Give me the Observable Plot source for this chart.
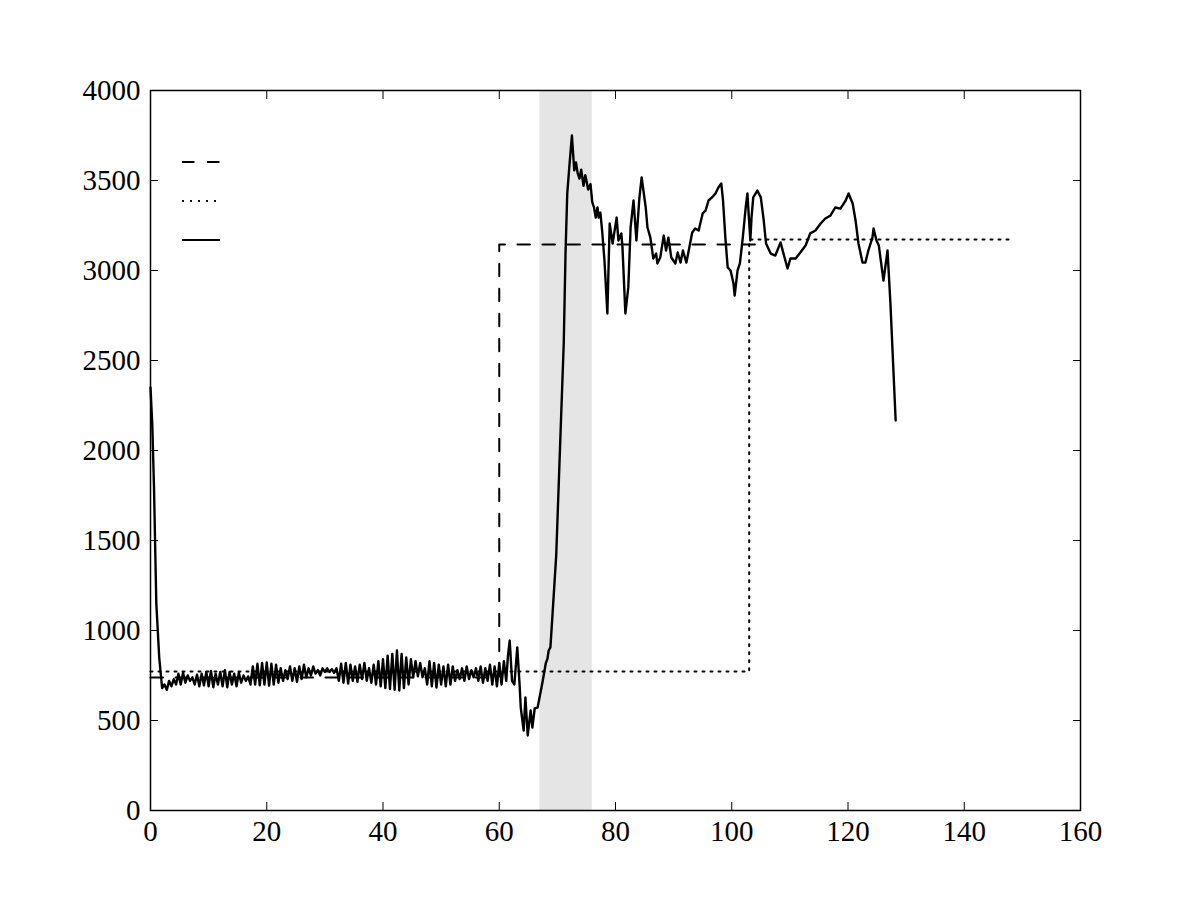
<!DOCTYPE html>
<html>
<head>
<meta charset="utf-8">
<script src="https://cdn.jsdelivr.net/npm/d3@7"></script>
<script src="https://cdn.jsdelivr.net/npm/@observablehq/plot@0.6"></script>
<style>
  body { margin: 0; background: #fff; }
  #chart { width: 1200px; height: 900px; }
</style>
</head>
<body>
<div id="chart"></div>
<script>
// ---- data ----
const xTicks = [0, 20, 40, 60, 80, 100, 120, 140, 160];
const yTicks = [0, 500, 1000, 1500, 2000, 2500, 3000, 3500, 4000];

const shadeStart = [67];
const shadeEnd = [76];

const dashedX = [0, 60, 60, 104];
const dashedY = [739, 739, 3145, 3145];

const dottedX = [0, 103, 103, 148];
const dottedY = [772, 772, 3172, 3172];

const solidPts = [
  [0,2350],[0.3,2150],[0.6,1800],[1.0,1150],[1.5,850],[2.0,680],
  [2.4,700],[2.8,670],[3.2,720],[3.6,690],[4.0,730],[4.4,700],[4.8,760],[5.2,700],[5.6,765],
  [6.0,710],[6.4,750],[6.8,720],[7.2,740],[7.6,700],[8.0,755],[8.4,690],[8.8,760],[9.2,695],
  [9.6,770],[10.0,690],[10.4,775],[10.8,685],[11.2,760],[11.6,700],[12.0,770],[12.4,690],
  [12.8,780],[13.2,685],[13.6,770],[14.0,700],[14.4,760],[14.8,690],[15.2,765],[15.6,710],
  [16.0,750],[16.4,720],[16.8,745],[17.2,700],[17.6,800],[18.0,700],[18.4,815],[18.8,695],
  [19.2,820],[19.6,700],[20.0,822],[20.4,694],[20.8,815],[21.2,700],[21.6,810],[22.0,710],
  [22.4,790],[22.8,720],[23.2,780],[23.6,730],[24.0,800],[24.4,720],[24.8,790],[25.2,715],
  [25.6,800],[26.0,730],[26.4,810],[26.8,740],[27.2,790],[27.6,750],[28.0,800],[28.4,760],
  [28.8,780],[29.2,750],[29.6,790],[30.0,770],[30.4,790],[30.8,770],[31.2,785],[31.6,765],
  [32.0,790],[32.4,720],[32.8,815],[33.2,710],[33.6,820],[34.0,705],[34.4,810],[34.8,720],
  [35.2,800],[35.6,715],[36.0,810],[36.4,730],[36.8,820],[37.2,720],[37.6,790],[38.0,710],
  [38.4,810],[38.8,700],[39.2,830],[39.6,690],[40.0,840],[40.4,680],[40.8,860],[41.2,675],
  [41.6,870],[42.0,670],[42.4,889],[42.8,667],[43.2,870],[43.6,680],[44.0,850],[44.4,700],
  [44.8,840],[45.2,740],[45.6,830],[46.0,745],[46.4,820],[46.8,740],[47.2,790],[47.6,700],
  [48.0,830],[48.4,690],[48.8,820],[49.2,683],[49.6,810],[50.0,700],[50.4,800],[50.8,690],
  [51.2,810],[51.6,700],[52.0,800],[52.4,720],[52.8,780],[53.2,730],[53.6,790],[54.0,720],
  [54.4,800],[54.8,730],[55.2,780],[55.6,740],[56.0,790],[56.4,720],[56.8,800],[57.2,710],
  [57.6,790],[58.0,720],[58.4,810],[58.8,700],[59.2,800],[59.6,690],[60.0,820],[60.4,700],
  [60.8,830],[61.2,720],[61.5,860],[61.8,944],[62.2,720],[62.6,700],[63.1,906],[63.5,700],
  [63.7,572],[64.2,444],[64.5,628],[64.9,417],[65.4,556],[65.7,461],[66.1,567],[66.6,572],
  [67.4,706],[68.0,817],[68.3,844],[68.5,889],[68.8,906],[69.1,1056],[69.8,1417],[70.5,2056],
  [71.1,2600],[71.4,3094],[71.7,3428],[72.1,3594],[72.5,3750],[72.9,3556],[73.2,3600],
  [73.5,3539],[73.8,3511],[74.1,3560],[74.5,3470],[74.8,3530],[75.3,3450],[75.7,3480],
  [76.0,3380],[76.3,3350],[76.6,3294],[76.9,3350],[77.1,3294],[77.4,3322],[77.7,3222],
  [78.1,3056],[78.6,2761],[79.0,3261],[79.5,3150],[80.2,3294],[80.5,3167],[81.0,3206],
  [81.2,3128],[81.7,2761],[82.2,2906],[82.6,3239],[83.1,3389],[83.6,3167],[84.1,3400],
  [84.5,3517],[85.2,3350],[85.5,3239],[86.0,3183],[86.5,3067],[87.0,3094],[87.2,3039],
  [87.7,3072],[88.3,3194],[88.7,3111],[89.1,3183],[89.6,3072],[90.3,3039],[90.7,3100],
  [91.2,3044],[91.6,3111],[92.2,3044],[92.7,3128],[93.2,3211],[93.7,3233],[94.3,3222],
  [95.0,3317],[95.5,3333],[96.0,3389],[96.6,3406],[97.2,3428],[97.7,3461],[98.2,3483],
  [98.5,3389],[98.9,3183],[99.3,3017],[99.8,3000],[100.3,2928],[100.5,2861],[101.0,3000],
  [101.4,3039],[101.9,3183],[102.4,3350],[102.7,3428],[102.9,3317],[103.2,3167],[103.4,3294],
  [103.7,3406],[104.4,3444],[105.0,3406],[105.5,3278],[105.9,3150],[106.7,3094],[107.5,3083],
  [108.4,3156],[108.9,3094],[109.6,3011],[110.1,3067],[111.0,3067],[111.8,3100],[112.7,3139],
  [113.5,3206],[114.4,3222],[115.3,3261],[116.1,3289],[117.0,3306],[117.8,3350],[118.7,3344],
  [119.6,3389],[120.1,3428],[120.8,3372],[121.3,3278],[121.8,3150],[122.5,3044],[123.0,3044],
  [123.5,3111],[124.2,3183],[124.4,3233],[124.9,3167],[125.3,3139],[126.1,2944],[126.8,3111],
  [127.3,2817],[128.2,2167]
];

const legendDashes = ["12.5,12.5", "2,6", null];

// ---- build tables ----
const shade = shadeStart.map((s, i) => ({start: s, end: shadeEnd[i]}));
const dashed = dashedX.map((x, i) => ({x, y: dashedY[i]}));
const dotted = dottedX.map((x, i) => ({x, y: dottedY[i]}));
const solid = solidPts.map(([x, y]) => ({x, y}));

const font = "'Liberation Serif', serif";
const fmt = d => String(d);

const plot = Plot.plot({
  width: 1200,
  height: 900,
  marginLeft: 150,
  marginRight: 120,
  marginTop: 90,
  marginBottom: 90,
  x: {domain: [0, 160]},
  y: {domain: [0, 4000]},
  style: {fontFamily: font, fontSize: "29px", color: "black", background: "white"},
  marks: [
    Plot.rect(shade, {x1: "start", x2: "end", fill: "#e5e5e5"}),
    Plot.line(dashed, {x: "x", y: "y", stroke: "black", strokeWidth: 2, strokeDasharray: "12.5,12.5"}),
    Plot.line(dotted, {x: "x", y: "y", stroke: "black", strokeWidth: 2, strokeDasharray: "2,6"}),
    Plot.line(solid, {x: "x", y: "y", stroke: "black", strokeWidth: 2.4}),
    Plot.frame({stroke: "black", strokeWidth: 1.5}),
    Plot.axisX(xTicks, {anchor: "bottom", tickSize: -8, tickPadding: 18, label: null, fontSize: 29, tickFormat: fmt}),
    Plot.axisX(xTicks, {anchor: "top", tickSize: -8, tickFormat: () => "", label: null}),
    Plot.axisY(yTicks, {anchor: "left", tickSize: -8, tickPadding: 18, label: null, fontSize: 29, tickFormat: fmt}),
    Plot.axisY(yTicks, {anchor: "right", tickSize: -8, tickFormat: () => "", label: null})
  ]
});

document.getElementById("chart").appendChild(plot);

// legend (handles only, no labels)
const svg = d3.select(plot);
const lg = svg.append("g").attr("stroke", "black").attr("stroke-width", 2);
legendDashes.forEach((dash, i) => {
  const l = lg.append("line")
    .attr("x1", 182).attr("x2", 220)
    .attr("y1", 162 + i * 39).attr("y2", 162 + i * 39);
  if (dash) l.attr("stroke-dasharray", dash);
});
</script>
</body>
</html>
